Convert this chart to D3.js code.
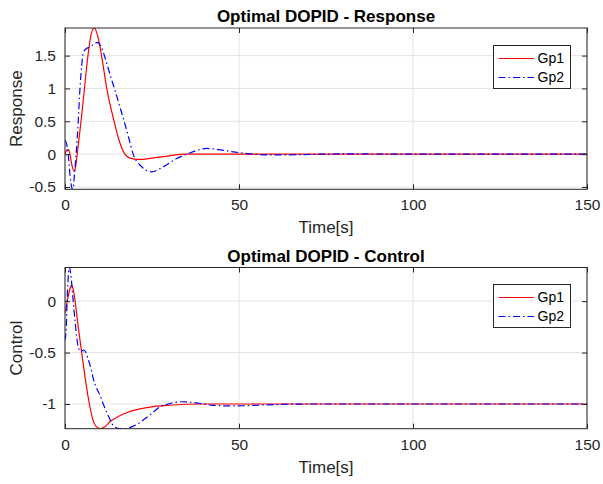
<!DOCTYPE html>
<html>
<head>
<meta charset="utf-8">
<script src="https://cdn.jsdelivr.net/npm/d3@7"></script>
<style>
  html, body { margin: 0; padding: 0; background: #fff; }
  svg { display: block; font-family: "Liberation Sans", Arial, Helvetica, sans-serif; }
</style>
</head>
<body>
<div id="chart"></div>
<script>
// ---------- data ----------
const seriesNames = ["Gp1", "Gp2"];
const xTicks = [0, 50, 100, 150];
const xTickLabels = ["0", "50", "100", "150"];

// Response plot
const respTicks = [-0.5, 0, 0.5, 1, 1.5];
const respTickLabels = ["-0.5", "0", "0.5", "1", "1.5"];
const respLimits = [-0.535, 1.92];

const respGp1Time = [0, 0.5, 1, 1.5, 2, 2.6, 3, 3.5, 4, 4.6, 5.1, 5.6, 6.1, 6.6, 7.5, 8.4, 9.3, 10.5, 12, 14.1, 15.6, 17.2, 18.7, 21, 25, 30, 34.5, 45, 60, 80, 100, 120, 150];
const respGp1 = [0.0, 0.06, 0.07, -0.02, -0.17, -0.26, -0.2, 0.0, 0.22, 0.5, 0.75, 1.0, 1.27, 1.5, 1.82, 1.92, 1.82, 1.5, 1.0, 0.5, 0.2, 0.0, -0.06, -0.08, -0.06, -0.025, 0.0, 0, 0, 0, 0, 0, 0];

const respGp2Time = [0, 0.5, 1, 1.5, 2, 2.3, 2.7, 3.2, 3.8, 4.3, 4.8, 5.3, 6, 7, 8, 9.3, 10.5, 12, 13, 14.2, 15.6, 17, 18.3, 19.6, 22, 24.9, 28.3, 32.1, 35, 38, 40.7, 44, 48.4, 54, 60, 70, 80, 100, 150];
const respGp2 = [0.21, 0.15, -0.05, -0.35, -0.52, -0.535, -0.32, 0.0, 0.5, 1.0, 1.35, 1.55, 1.6, 1.63, 1.66, 1.7, 1.62, 1.38, 1.2, 1.0, 0.75, 0.5, 0.25, 0.0, -0.19, -0.27, -0.19, -0.066, 0.0, 0.06, 0.087, 0.07, 0.035, 0.0, -0.012, -0.005, 0.004, 0, 0];

// Control plot
const ctrlTicks = [-1, -0.5, 0];
const ctrlTickLabels = ["-1", "-0.5", "0"];
const ctrlLimits = [-1.24, 0.327];

const ctrlGp1Time = [0, 0.5, 1, 1.5, 1.9, 2.4, 2.9, 3.8, 4.8, 5.9, 7, 8, 9, 10.3, 11.5, 13, 14.4, 16, 17.7, 20, 24.4, 30, 38.8, 50, 150];
const ctrlGp1 = [-0.12, -0.03, 0.06, 0.13, 0.156, 0.11, 0.0, -0.25, -0.5, -0.77, -1.0, -1.15, -1.22, -1.24, -1.22, -1.17, -1.14, -1.11, -1.085, -1.06, -1.03, -1.012, -1.0, -1.0, -1.0];

const ctrlGp2Time = [0, 0.3, 0.67, 1.0, 1.25, 1.7, 2.2, 2.9, 3.4, 3.8, 4.5, 5.4, 6, 6.5, 7.5, 8.1, 9, 10, 11, 12.5, 13.9, 15.8, 17, 18.5, 20.5, 22.5, 25, 27.3, 29.7, 33.3, 37, 42, 47, 51, 58, 70, 150];
const ctrlGp2 = [-0.38, -0.3, 0.06, 0.27, 0.33, 0.25, 0.06, -0.2, -0.36, -0.445, -0.49, -0.475, -0.5, -0.55, -0.66, -0.75, -0.84, -0.91, -1.0, -1.12, -1.21, -1.24, -1.24, -1.23, -1.2, -1.156, -1.09, -1.026, -1.0, -0.978, -0.985, -1.01, -1.018, -1.017, -1.008, -1.0, -1.0];

// ---------- drawing ----------
const W = 603, H = 484;
const svg = d3.select("#chart").append("svg").attr("width", W).attr("height", H);
const axisColor = "#262626";
const gridColor = "#e3e3e3";
const colors = ["#ff0000", "#0000ff"];
const dashes = [null, "7,3,1.5,3"];

function panel(opts) {
  const { top, bottom, left, right, yLim, yTicks, yLabels, title, ylabel, series, id } = opts;
  const x = d3.scaleLinear().domain([0, 150]).range([left, right]);
  const y = d3.scaleLinear().domain(yLim).range([bottom, top]);
  const g = svg.append("g");

  // grid
  g.append("g").selectAll("line.gx").data(xTicks).join("line")
    .attr("x1", d => x(d)).attr("x2", d => x(d)).attr("y1", top).attr("y2", bottom)
    .attr("stroke", gridColor).attr("stroke-width", 1);
  g.append("g").selectAll("line.gy").data(yTicks).join("line")
    .attr("y1", d => y(d)).attr("y2", d => y(d)).attr("x1", left).attr("x2", right)
    .attr("stroke", gridColor).attr("stroke-width", 1);

  // clip
  svg.append("clipPath").attr("id", id).append("rect")
    .attr("x", left).attr("y", top).attr("width", right - left).attr("height", bottom - top);

  const line = d3.line().x(d => x(d[0])).y(d => y(d[1])).curve(d3.curveMonotoneX);
  const lg = g.append("g").attr("clip-path", `url(#${id})`);
  series.forEach((s, i) => {
    const pts = s.t.map((t, k) => [t, s.v[k]]);
    lg.append("path").datum(pts).attr("d", line)
      .attr("fill", "none").attr("stroke", colors[i]).attr("stroke-width", 1.2)
      .attr("stroke-dasharray", dashes[i]);
  });

  // axes (MATLAB-like box with inner ticks)
  const tl = 5;
  const xAxisB = d3.axisBottom(x).tickValues(xTicks).tickFormat((d, i) => xTickLabels[i]).tickSizeInner(-tl).tickSizeOuter(0).tickPadding(10);
  const xAxisT = d3.axisTop(x).tickValues(xTicks).tickFormat("").tickSizeInner(-tl).tickSizeOuter(0);
  const yAxisL = d3.axisLeft(y).tickValues(yTicks).tickFormat((d, i) => yLabels[i]).tickSizeInner(-tl).tickSizeOuter(0).tickPadding(9);
  const yAxisR = d3.axisRight(y).tickValues(yTicks).tickFormat("").tickSizeInner(-tl).tickSizeOuter(0);

  const styleAxis = sel => {
    sel.select(".domain").remove();
    sel.selectAll("line").attr("stroke", axisColor).attr("stroke-width", 1);
    sel.selectAll("text").attr("fill", axisColor).style("font-size", "15.5px")
      .style("font-family", '"Liberation Sans", Arial, sans-serif');
  };
  g.append("g").attr("transform", `translate(0,${bottom})`).call(xAxisB).call(styleAxis);
  g.append("g").attr("transform", `translate(0,${top})`).call(xAxisT).call(styleAxis);
  g.append("g").attr("transform", `translate(${left},0)`).call(yAxisL).call(styleAxis);
  g.append("g").attr("transform", `translate(${right},0)`).call(yAxisR).call(styleAxis);

  g.append("rect").attr("x", left).attr("y", top).attr("width", right - left).attr("height", bottom - top)
    .attr("fill", "none").attr("stroke", axisColor).attr("stroke-width", 1);

  // title & labels
  g.append("text").attr("x", (left + right) / 2).attr("y", top - 6)
    .attr("text-anchor", "middle").attr("font-weight", "bold").attr("font-size", "17px")
    .attr("fill", "#000").text(title);
  g.append("text").attr("x", (left + right) / 2).attr("y", bottom + 44)
    .attr("text-anchor", "middle").attr("font-size", "17px").attr("fill", axisColor).text("Time[s]");
  g.append("text").attr("transform", `translate(22,${(top + bottom) / 2}) rotate(-90)`)
    .attr("text-anchor", "middle").attr("font-size", "17px").attr("fill", axisColor).text(ylabel);

  // legend
  const lx = 493.5, ly = Math.round(top + 16.5) + 0.5, lw = 77, lh = 43;
  const leg = g.append("g");
  leg.append("rect").attr("x", lx).attr("y", ly).attr("width", lw).attr("height", lh)
    .attr("fill", "#fff").attr("stroke", axisColor).attr("stroke-width", 1);
  seriesNames.forEach((name, i) => {
    const yy = ly + 13 + i * 19;
    leg.append("line").attr("x1", lx + 5).attr("x2", lx + 40.5).attr("y1", yy).attr("y2", yy)
      .attr("stroke", colors[i]).attr("stroke-width", 1).attr("stroke-dasharray", dashes[i]);
    leg.append("text").attr("x", lx + 44).attr("y", yy).attr("dy", "0.35em")
      .attr("font-size", "14px").attr("fill", "#000").text(name);
  });
}

panel({
  id: "clipResp", top: 28, bottom: 189.3, left: 65, right: 587,
  yLim: respLimits, yTicks: respTicks, yLabels: respTickLabels,
  title: "Optimal DOPID - Response", ylabel: "Response",
  series: [{ t: respGp1Time, v: respGp1 }, { t: respGp2Time, v: respGp2 }]
});
panel({
  id: "clipCtrl", top: 267.5, bottom: 428.7, left: 65, right: 587,
  yLim: ctrlLimits, yTicks: ctrlTicks, yLabels: ctrlTickLabels,
  title: "Optimal DOPID - Control", ylabel: "Control",
  series: [{ t: ctrlGp1Time, v: ctrlGp1 }, { t: ctrlGp2Time, v: ctrlGp2 }]
});
</script>
</body>
</html>
